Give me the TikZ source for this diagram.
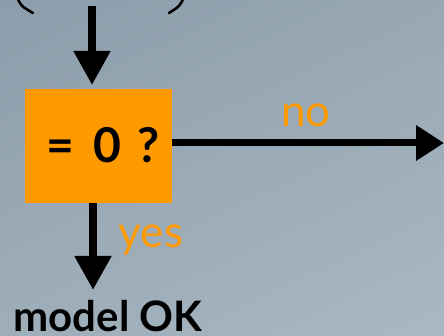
\documentclass[tikz,border=0pt]{standalone}
\usepackage{fontspec}
\setmainfont{Lato}
\usetikzlibrary{arrows.meta}
\definecolor{bgA}{HTML}{8C9DAB}
\definecolor{bgB}{HTML}{A9B8C2}
\definecolor{boxor}{HTML}{FF9900}
\tikzset{
  arr/.style={line width=8pt, -{Triangle[length=34pt,width=35pt]}},
  harr/.style={line width=7pt, -{Triangle[length=28pt,width=34pt]}},
  lbl/.style={text=boxor, font=\fontsize{44}{44}\selectfont, inner sep=0pt},
  paren/.style={line width=2.6pt, line cap=round},
}
\begin{document}
\begin{tikzpicture}[x=1pt,y=-1pt]
\useasboundingbox (0,0) rectangle (444,336);
\shade[shading=axis, top color=bgA, bottom color=bgB, shading angle=25] (-60,-60) rectangle (504,396);
% parentheses fragments
\draw[paren] (17,-3) .. controls (21,6) .. (33,13);
\draw[paren] (184,-3) .. controls (180,6) .. (169,13);
% decision box
\node[fill=boxor, minimum width=147pt, minimum height=114pt, inner sep=0pt, anchor=north west] (q) at (25,89) {};
\node[font=\bfseries\fontsize{48}{48}\selectfont, inner sep=0pt] (qt) at (103,145) {=\hspace{0.4em}0\hspace{0.32em}?};
\coordinate (top) at (92,6);
\coordinate (noend) at (444,143);
\coordinate (yesend) at (93,290);
\draw[arr] (top) -- ([yshift=4pt]q.north -| top);
\draw[harr] (q.east |- noend) -- (noend);
\draw[arr] (q.south -| yesend) -- (yesend);
\node[lbl] (no) at (306,115) {no};
\node[lbl] (yes) at (151,240) {yes};
\node[font=\bfseries\fontsize{42}{42}\selectfont, inner sep=0pt, anchor=base] (ok) at (108,331) {model OK};
\end{tikzpicture}
\end{document}
